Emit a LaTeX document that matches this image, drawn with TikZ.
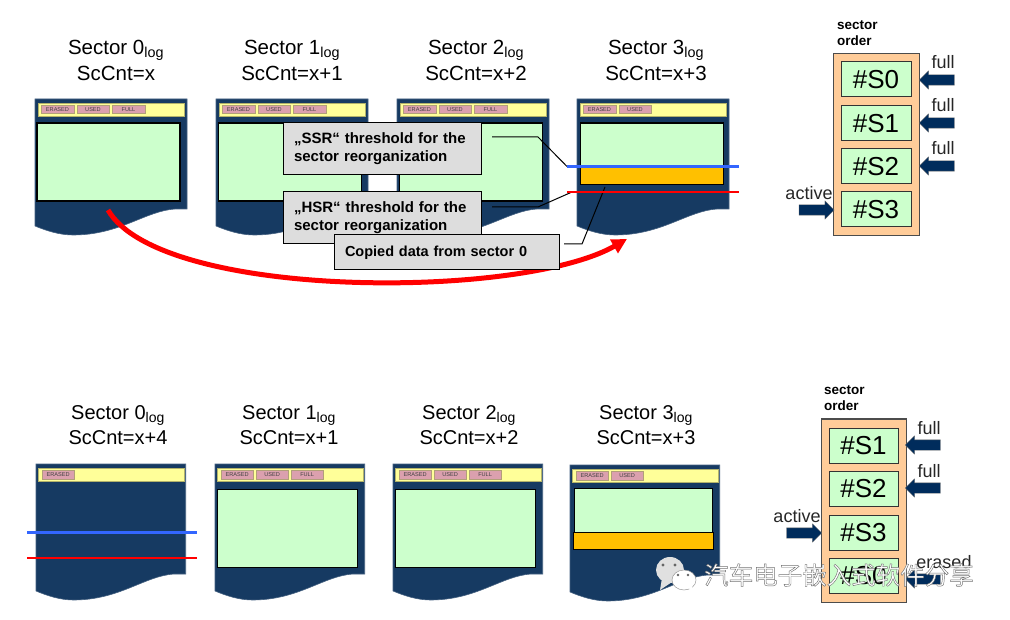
\documentclass[tikz,border=0pt]{standalone}
\usepackage{fontspec}
\setmainfont{Liberation Sans}
\newfontfamily\cjkwm{Noto Sans CJK SC}
\usetikzlibrary{arrows.meta,shapes.arrows}
\definecolor{pagenavy}{RGB}{22,58,98}
\definecolor{baryellow}{RGB}{255,255,153}
\definecolor{tagrose}{RGB}{219,160,174}
\definecolor{tagedge}{RGB}{178,160,120}
\definecolor{datagreen}{RGB}{204,255,204}
\definecolor{copyorange}{RGB}{255,192,0}
\definecolor{orderpeach}{RGB}{255,204,153}
\definecolor{ssrblue}{RGB}{51,102,255}
\definecolor{calloutgray}{RGB}{221,221,221}
\definecolor{flagnavy}{RGB}{0,44,92}
\begin{document}
\begin{tikzpicture}[x=1pt, y=-1pt, >=stealth,
  title/.style={align=center, font=\fontsize{20.5}{26}\selectfont},
  lowtitle/.style={align=center, font=\fontsize{20}{25}\selectfont},
  data/.style={draw=black, line width=1.1pt, fill=datagreen, minimum width=143pt, minimum height=78pt, inner sep=0pt},
  lowdata/.style={data, line width=.8pt, minimum width=140pt},
  copied/.style={draw=black, line width=.9pt, fill=copyorange, inner sep=0pt},
  barbox/.style={draw=baryellow!70!black, line width=.4pt, fill=baryellow, minimum width=146pt, minimum height=13pt, inner sep=0pt},
  tagbox/.style={draw=tagedge, line width=.5pt, fill=tagrose, minimum width=32.5pt, minimum height=8.5pt, inner sep=0pt, text=black!75, font=\fontsize{5.6}{6}\selectfont},
  callout/.style={draw=black, line width=1pt, fill=calloutgray, align=left, text width=176pt, minimum width=198pt, minimum height=52pt, inner sep=0pt, inner xsep=11pt, font=\bfseries\fontsize{15}{18}\selectfont},
  leader/.style={draw=black, line width=1pt},
  ssrline/.style={draw=ssrblue, line width=3pt},
  hsrline/.style={draw=red, line width=2.5pt},
  order/.style={draw=black!70, line width=1pt, fill=orderpeach, inner sep=0pt},
  slot/.style={draw=black!80, line width=1pt, fill=datagreen, minimum width=70pt, minimum height=35pt, inner sep=0pt, font=\fontsize{26}{30}\selectfont},
  flag/.style={single arrow, fill=flagnavy, draw=black!60, line width=.3pt, minimum height=35pt, single arrow head extend=4pt, single arrow head indent=0pt, inner xsep=0pt, inner ysep=5pt},
  flagleft/.style={flag, shape border rotate=180},
  flagtext/.style={font=\fontsize{18}{20}\selectfont, inner sep=0pt, text=black!85},
  ordertitle/.style={align=left, anchor=west, inner sep=0pt, font=\bfseries\fontsize{13.5}{16}\selectfont},
  pics/sectorpage/.style={code={
    \path[fill=pagenavy, draw=pagenavy!80!white, line width=.6pt] (0,0) -- (152,0) -- (152,110) -- (140,110)
      .. controls (110,112) and (85,136) .. (38,136) .. controls (25,136) and (12,132) .. (0,127) -- cycle;
    \node[barbox] (-bar) at (76,10.5) {};
    \foreach \tagtext [count=\i] in {#1} {
      \node[tagbox] (-tag\i) at ({22.5+35.5*(\i-1)},10.5) {\tagtext};
    }
  }}]
\useasboundingbox (0,0) rectangle (1010,620);
% upper row
\node[title] (t0) at (116,60) {Sector 0\textsubscript{log}\\ScCnt=x};
\node[title] (t1) at (292,60) {Sector 1\textsubscript{log}\\ScCnt=x+1};
\node[title] (t2) at (476,60) {Sector 2\textsubscript{log}\\ScCnt=x+2};
\node[title] (t3) at (656,60) {Sector 3\textsubscript{log}\\ScCnt=x+3};
\pic (s0) at (35,99) {sectorpage={ERASED,USED,FULL}};
\pic (s1) at (216,99) {sectorpage={ERASED,USED,FULL}};
\pic (s2) at (397,99) {sectorpage={ERASED,USED,FULL}};
\pic (s3) at (577,99) {sectorpage={ERASED,USED}};
\node[data] (d0) at (108.5,162) {};
\node[data] (d1) at (290,162) {};
\node[data] (d2) at (471,162) {};
\node[data, minimum height=44pt] (d3) at (652,145) {};
\node[copied, minimum width=143pt, minimum height=17pt] (c3) at (652,175.5) {};
% thresholds
\coordinate (ssrleft) at (567,166.5);
\coordinate (ssrright) at (739,166.5);
\coordinate (hsrleft) at (567,192);
\coordinate (hsrright) at (739,192);
\draw[leader] (492,137) coordinate (ssrtail) -- (538,137) -- (ssrleft);
\draw[leader] (492,207) coordinate (hsrtail) -- (538,207) -- (572,192) coordinate (hsrhit);
\draw[leader] (564,244) coordinate (copytail) -- (582,244) -- (605,187) coordinate (copyhit);
\draw[ssrline] (ssrleft) -- (ssrright);
\draw[hsrline] (hsrleft) -- (hsrright);
% copy arrow
\coordinate (copyfrom) at (108,210);
\coordinate (copyto) at (627,239);
\draw[red, line width=5pt, -{Triangle[length=15pt,width=15pt]}] (copyfrom) .. controls (160,300) and (520,300) .. (copyto);
\node[callout] (ssr) at (382,149) {„SSR“ threshold for the\\sector reorganization};
\node[callout] (hsr) at (382,218) {„HSR“ threshold for the\\sector reorganization};
\node[callout, minimum width=225pt, minimum height=35pt, text width=203pt, font=\bfseries\fontsize{14.5}{18}\selectfont] (copy) at (446.5,252.5) {Copied data from sector 0};
% upper order
\node[ordertitle] (ot) at (837,33) {sector\\order};
\node[order, minimum width=86pt, minimum height=182pt] (o) at (876,145) {};
\node[slot] (o0) at (876,79.5) {\#S0};
\node[slot] (o1) at (876,123.5) {\#S1};
\node[slot] (o2) at (876,166.5) {\#S2};
\node[slot] (o3) at (876,209.5) {\#S3};
\node[flagleft] (f0) at (939.5,80) {};
\node[flagleft] (f1) at (939.5,123) {};
\node[flagleft] (f2) at (939.5,166) {};
\node[flag] (fa) at (814,210) {};
\node[flagtext] at (943,62) {full};
\node[flagtext] at (943,105) {full};
\node[flagtext] at (943,148) {full};
\node[flagtext] at (809,193) {active};
% lower row
\node[lowtitle] (u0) at (118,425.5) {Sector 0\textsubscript{log}\\ScCnt=x+4};
\node[lowtitle] (u1) at (289,425.5) {Sector 1\textsubscript{log}\\ScCnt=x+1};
\node[lowtitle] (u2) at (469,425.5) {Sector 2\textsubscript{log}\\ScCnt=x+2};
\node[lowtitle] (u3) at (646,425.5) {Sector 3\textsubscript{log}\\ScCnt=x+3};
\pic[xscale=.985] (v0) at (36,464) {sectorpage={ERASED}};
\pic[xscale=.985] (v1) at (215,464) {sectorpage={ERASED,USED,FULL}};
\pic[xscale=.985] (v2) at (393,464) {sectorpage={ERASED,USED,FULL}};
\pic[xscale=.985] (v3) at (570,465) {sectorpage={ERASED,USED}};
\node[lowdata] (w1) at (287,528) {};
\node[lowdata] (w2) at (465,528) {};
\node[lowdata, minimum width=138pt, minimum height=44pt] (w3) at (643,510.5) {};
\node[copied, minimum width=140pt, minimum height=17pt] (x3) at (643.5,541) {};
\coordinate (lowssrleft) at (27,532);
\coordinate (lowssrright) at (197,532);
\coordinate (lowhsrleft) at (27,558);
\coordinate (lowhsrright) at (197,558);
\draw[ssrline] (lowssrleft) -- (lowssrright);
\draw[hsrline] (lowhsrleft) -- (lowhsrright);
% lower order
\node[ordertitle] (pt) at (824,398.5) {sector\\order};
\node[order, minimum width=85pt, minimum height=183pt] (p) at (863.5,510.5) {};
\node[slot, minimum width=69pt] (p1) at (863.5,445.5) {\#S1};
\node[slot, minimum width=69pt] (p2) at (863.5,488.5) {\#S2};
\node[slot, minimum width=69pt] (p3) at (863.5,532.5) {\#S3};
\node[slot, minimum width=69pt] (p0) at (863.5,576) {\#S0};
\node[flagleft] (g1) at (925.5,445) {};
\node[flagleft] (g2) at (925.5,488) {};
\node[flagleft] (g0) at (925.5,579) {};
\node[flag] (ga) at (801.5,533) {};
\node[flagtext] at (929,428) {full};
\node[flagtext] at (929,471) {full};
\node[flagtext] at (797,516) {active};
\node[flagtext] at (944,562) {erased};
% watermark
\path[fill=black!12] (670,570) ellipse (14pt and 13pt);
\path[fill=black!12] (662,578) -- (660,590) -- (672,582) -- cycle;
\path[fill=white, draw=black!40, line width=.5pt] (684,580) ellipse (12pt and 10pt);
\path[fill=white] (688,587) -- (693,594) -- (692,585) -- cycle;
\fill[black!60] (663,565) circle (1.7pt) (675,565) circle (1.7pt) (678,575) circle (1.3pt) (688,575) circle (1.3pt);
\node[inner sep=0pt, anchor=west, font=\cjkwm\fontsize{24.5}{26}\selectfont] (mark) at (704,575) {\special{pdf:code q 2 Tr 0.45 w 0.45 G 1 g}汽车电子嵌入式软件分享\special{pdf:code Q}};
\end{tikzpicture}
\end{document}
